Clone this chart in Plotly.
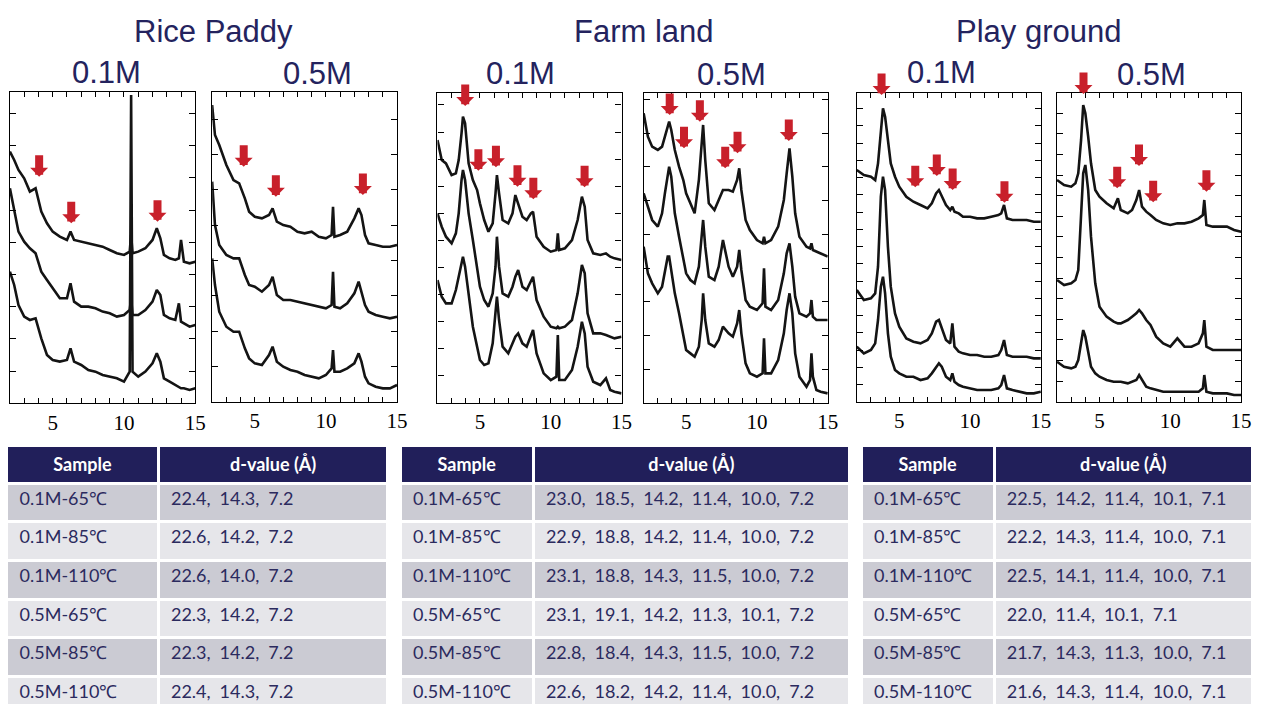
import plotly.graph_objects as go

W, H = 1264, 704

# ---------------- XRD data (2-theta, intensity in arbitrary units) ----------------
# Rice Paddy 0.1M
rp01_x = [2.0, 2.3, 2.6, 3.0, 3.4, 3.8, 4.2, 4.6, 5.0, 5.5, 6.0, 6.25, 6.5, 7.0, 7.5, 8.0, 8.5, 9.0,
          9.5, 10.0, 10.4, 10.5, 10.6, 11.0, 11.5, 12.0, 12.3, 12.55, 12.8, 13.2, 13.6, 13.85, 14.0,
          14.2, 14.6, 15.0]
rp01_65 = [800, 775, 745, 720, 680, 690, 620, 585, 560, 545, 535, 560, 535, 530, 525, 520, 515, 505,
           495, 490, 500, 550, 495, 500, 510, 535, 570, 540, 490, 480, 475, 480, 535, 470, 465, 470]
rp01_85 = [690, 620, 560, 530, 510, 495, 440, 415, 390, 360, 360, 405, 350, 335, 335, 330, 320, 315,
           305, 310, 325, 360, 310, 310, 325, 350, 385, 370, 310, 300, 295, 345, 290, 285, 275, 280]
rp01_110 = [440, 400, 340, 305, 295, 300, 240, 190, 175, 170, 175, 210, 170, 160, 145, 140, 130, 125,
            120, 110, 140, 970, 140, 125, 140, 165, 195, 170, 120, 110, 100, 95, 90, 90, 85, 90]
rp01_arrow_x = [4.05, 6.3, 12.35]
rp01_arrow_y = [725, 585, 590]

# Rice Paddy 0.5M
rp05_x = [2.0, 2.2, 2.5, 3.0, 3.5, 3.9, 4.3, 4.6, 5.0, 5.5, 6.0, 6.25, 6.55, 7.0, 7.5, 8.0, 8.5, 9.0,
          9.5, 10.0, 10.4, 10.5, 10.6, 11.0, 11.5, 12.0, 12.3, 12.5, 12.75, 13.0, 13.5, 14.0, 14.5, 15.0]
rp05_65 = [940, 850, 820, 760, 715, 705, 660, 620, 605, 600, 610, 630, 590, 580, 575, 560, 555, 560,
           545, 540, 550, 635, 545, 550, 560, 600, 630, 610, 550, 525, 520, 515, 515, 520]
rp05_85 = [710, 580, 520, 490, 480, 480, 430, 400, 395, 380, 400, 425, 370, 355, 355, 350, 345, 340,
           335, 330, 340, 440, 335, 330, 345, 375, 410, 380, 340, 320, 310, 305, 300, 305]
rp05_110 = [480, 400, 320, 275, 260, 260, 210, 180, 165, 160, 190, 215, 170, 155, 145, 140, 130, 125,
            120, 130, 150, 205, 140, 140, 150, 165, 195, 170, 125, 105, 95, 90, 90, 100]
rp05_arrow_x = [4.22, 6.48, 12.6]
rp05_arrow_y = [755, 665, 670]

# Farm land 0.1M
fl01_x = [2.0, 2.3, 2.6, 3.0, 3.3, 3.5, 3.7, 3.8, 3.95, 4.2, 4.5, 4.8, 5.0, 5.3, 5.6, 5.9, 6.1, 6.2,
          6.35, 6.6, 7.0, 7.3, 7.5, 7.7, 8.0, 8.3, 8.6, 8.75, 9.0, 9.5, 10.0, 10.4, 10.5, 10.6, 11.0,
          11.5, 11.9, 12.2, 12.4, 12.6, 13.0, 13.5, 13.9, 14.2, 14.5, 15.0]
fl01_65 = [820, 760, 750, 715, 720, 760, 840, 890, 870, 750, 700, 670, 630, 580, 545, 570, 660, 715,
           660, 580, 570, 600, 655, 630, 590, 580, 600, 605, 530, 500, 485, 490, 540, 490, 495,
           520, 580, 650, 620, 520, 480, 475, 480, 470, 465, 460]
fl01_85 = [600, 560, 530, 510, 540, 600, 700, 730, 700, 600, 520, 440, 380, 340, 320, 360, 440, 530,
           440, 360, 350, 380, 410, 430, 380, 370, 400, 410, 340, 290, 260, 255, 260, 255, 260,
           280, 360, 445, 420, 300, 240, 240, 235, 230, 225, 230]
fl01_110 = [400, 350, 330, 330, 370, 410, 460, 470, 440, 360, 260, 200, 160, 145, 150, 210, 300, 350,
            280, 200, 180, 210, 230, 240, 210, 200, 230, 250, 180, 120, 100, 110, 235, 100, 100,
            130, 200, 275, 240, 140, 95, 85, 105, 70, 65, 60]
fl01_arrow_x = [3.96, 4.89, 6.13, 7.65, 8.77, 12.39]
fl01_arrow_y = [922, 728, 738, 680, 642, 678]

# Farm land 0.5M
fl05_x = [2.0, 2.3, 2.6, 3.0, 3.3, 3.5, 3.7, 3.8, 3.95, 4.2, 4.5, 4.8, 5.0, 5.3, 5.6, 5.9, 6.1, 6.2,
          6.35, 6.6, 7.0, 7.3, 7.6, 8.0, 8.3, 8.6, 8.75, 8.9, 9.2, 9.5, 10.0, 10.4, 10.5, 10.6, 11.0,
          11.5, 11.9, 12.1, 12.3, 12.5, 12.7, 13.0, 13.5, 13.75, 13.85, 13.95, 14.2, 14.5, 15.0]
fl05_65 = [900, 830, 800, 790, 800, 830, 860, 875, 850, 790, 740, 700, 660, 630, 600, 700, 800, 865,
           760, 630, 610, 640, 670, 670, 665, 700, 735, 670, 580, 550, 520, 510, 530, 510, 520,
           560, 640, 720, 795, 710, 600, 530, 500, 495, 510, 490, 485, 480, 470]
fl05_85 = [660, 620, 580, 560, 600, 660, 720, 740, 710, 600, 530, 460, 420, 400, 390, 440, 520, 580,
           500, 410, 400, 440, 520, 440, 410, 440, 490, 430, 340, 320, 310, 330, 435, 320, 310,
           340, 420, 480, 510, 440, 350, 300, 290, 300, 340, 290, 280, 280, 280]
fl05_110 = [500, 420, 390, 360, 380, 430, 470, 470, 430, 360, 300, 230, 190, 180, 170, 200, 280, 360,
            280, 210, 200, 220, 260, 240, 230, 270, 310, 240, 150, 120, 110, 120, 225, 120, 120,
            160, 240, 310, 360, 300, 180, 110, 80, 100, 180, 110, 70, 65, 60]
fl05_arrow_x = [3.84, 4.85, 5.97, 7.76, 8.63, 12.25]
fl05_arrow_y = [895, 795, 875, 735, 780, 817]

# Play ground 0.1M
pg01_x = [2.0, 2.5, 3.0, 3.3, 3.5, 3.7, 3.85, 4.0, 4.2, 4.4, 4.7, 5.0, 5.5, 6.0, 6.5, 7.0, 7.3, 7.6,
          7.8, 8.0, 8.3, 8.6, 8.75, 8.9, 9.2, 9.5, 10.0, 10.5, 11.0, 11.5, 12.0, 12.2, 12.4, 12.6,
          13.0, 13.5, 14.0, 14.5, 15.0]
pg01_65 = [730, 715, 710, 700, 750, 850, 915, 890, 820, 750, 710, 680, 650, 635, 625, 615, 630, 660,
           670, 650, 625, 610, 620, 605, 600, 590, 590, 585, 585, 590, 595, 600, 625, 585,
           580, 580, 580, 575, 575]
pg01_85 = [370, 340, 345, 360, 440, 650, 710, 670, 500, 380, 300, 260, 225, 215, 210, 220, 240, 275,
           280, 255, 220, 210, 270, 200, 185, 180, 175, 175, 170, 170, 175, 190, 220, 175,
           170, 170, 170, 165, 165]
pg01_110 = [200, 180, 190, 210, 280, 380, 410, 360, 240, 170, 130, 120, 110, 110, 100, 105, 120, 140,
            150, 140, 110, 100, 120, 95, 85, 80, 75, 70, 70, 70, 75, 85, 115, 75,
            70, 65, 60, 60, 65]
pg01_arrow_x = [3.75, 6.13, 7.65, 8.77, 12.43]
pg01_arrow_y = [955, 678, 712, 670, 632]

# Play ground 0.5M
pg05_x = [2.0, 2.5, 3.0, 3.3, 3.5, 3.7, 3.85, 4.0, 4.2, 4.4, 4.7, 5.0, 5.5, 6.0, 6.3, 6.5, 7.0, 7.3,
          7.6, 7.8, 8.0, 8.3, 8.6, 9.0, 9.5, 10.0, 10.5, 11.0, 11.5, 12.0, 12.3, 12.4, 12.55, 13.0,
          13.5, 14.0, 14.5, 15.0]
pg05_65 = [700, 685, 680, 690, 720, 820, 925, 900, 830, 750, 670, 650, 630, 615, 645, 610, 600, 610,
           640, 670, 620, 605, 595, 580, 570, 565, 570, 570, 575, 585, 595, 640, 565, 560,
           560, 560, 550, 545]
pg05_85 = [400, 385, 390, 400, 430, 580, 720, 745, 670, 530, 390, 320, 290, 275, 270, 270, 280, 290,
           300, 310, 300, 280, 265, 230, 210, 200, 225, 200, 200, 210, 240, 280, 200, 190,
           190, 190, 190, 190]
pg05_110 = [155, 140, 135, 140, 160, 220, 250, 230, 180, 140, 120, 110, 100, 95, 95, 95, 90, 95,
            100, 115, 100, 80, 75, 70, 65, 65, 65, 65, 65, 65, 75, 115, 65, 60,
            60, 60, 55, 55]
pg05_arrow_x = [3.87, 6.25, 7.79, 8.79, 12.55]
pg05_arrow_y = [958, 675, 742, 633, 665]

x_tick_vals = [5, 10, 15]
x_tick_text = ["5", "10", "15"]

# ---------------- Table data ----------------
samples = ["0.1M-65\u2103", "0.1M-85\u2103", "0.1M-110\u2103",
           "0.5M-65\u2103", "0.5M-85\u2103", "0.5M-110\u2103"]
rp_d = [[22.4, 14.3, 7.2], [22.6, 14.2, 7.2], [22.6, 14.0, 7.2],
        [22.3, 14.2, 7.2], [22.3, 14.2, 7.2], [22.4, 14.3, 7.2]]
fl_d = [[23.0, 18.5, 14.2, 11.4, 10.0, 7.2], [22.9, 18.8, 14.2, 11.4, 10.0, 7.2],
        [23.1, 18.8, 14.3, 11.5, 10.0, 7.2], [23.1, 19.1, 14.2, 11.3, 10.1, 7.2],
        [22.8, 18.4, 14.3, 11.5, 10.0, 7.2], [22.6, 18.2, 14.2, 11.4, 10.0, 7.2]]
pg_d = [[22.5, 14.2, 11.4, 10.1, 7.1], [22.2, 14.3, 11.4, 10.0, 7.1],
        [22.5, 14.1, 11.4, 10.0, 7.1], [22.0, 11.4, 10.1, 7.1],
        [21.7, 14.3, 11.3, 10.0, 7.1], [21.6, 14.3, 11.4, 10.0, 7.1]]
header_labels = ["<b>Sample</b>", "<b>d-value (\u00c5)</b>"]

# ---------------- Styling / layout ----------------
NAVY = "#24235e"
RED = "#c8202b"
LINE = "#141414"

panels = [
    dict(x=rp01_x, ys=[rp01_65, rp01_85, rp01_110], ax=rp01_arrow_x, ay=rp01_arrow_y,
         box=(10, 92.3, 197, 403.3), yr=(45, 978), dt=96.6),
    dict(x=rp05_x, ys=[rp05_65, rp05_85, rp05_110], ax=rp05_arrow_x, ay=rp05_arrow_y,
         box=(214, 91.7, 400.5, 401.7), yr=(50, 980), dt=106),
    dict(x=fl01_x, ys=[fl01_65, fl01_85, fl01_110], ax=fl01_arrow_x, ay=fl01_arrow_y,
         box=(441.3, 92.7, 627, 402.7), yr=(32, 962), dt=81.2),
    dict(x=fl05_x, ys=[fl05_65, fl05_85, fl05_110], ax=fl05_arrow_x, ay=fl05_arrow_y,
         box=(649.3, 93.3, 835, 402.7), yr=(32, 960), dt=101),
    dict(x=pg01_x, ys=[pg01_65, pg01_85, pg01_110], ax=pg01_arrow_x, ay=pg01_arrow_y,
         box=(864.3, 92.7, 1050, 401.7), yr=(35, 962), dt=51.7),
    dict(x=pg05_x, ys=[pg05_65, pg05_85, pg05_110], ax=pg05_arrow_x, ay=pg05_arrow_y,
         box=(1066.3, 93.3, 1252, 401.7), yr=(35, 960), dt=61.8),
]

fig = go.Figure()
layout = {}
annotations = []

for i, p in enumerate(panels):
    n = "" if i == 0 else str(i + 1)
    xref, yref = "x" + n, "y" + n
    l, t, r, b = p["box"]
    for ys in p["ys"]:
        fig.add_trace(go.Scatter(x=p["x"], y=ys, xaxis=xref, yaxis=yref, mode="lines",
                                 line=dict(color=LINE, width=2.6), showlegend=False,
                                 hoverinfo="skip"))
    layout["xaxis" + n] = dict(
        domain=[l / W, r / W], range=[2, 15], anchor=yref,
        tickvals=x_tick_vals, ticktext=x_tick_text,
        ticks="inside", ticklen=5, tickwidth=1, tickcolor="black",
        minor=dict(dtick=1, tick0=0, ticks="inside", ticklen=5, tickcolor="black", tickwidth=1),
        showline=True, linecolor="black", linewidth=1.2, mirror="ticks",
        showgrid=False, zeroline=False,
        tickfont=dict(family="Liberation Serif, Times New Roman, serif", size=21, color="black"),
    )
    layout["yaxis" + n] = dict(
        domain=[1 - b / H, 1 - t / H], range=list(p["yr"]), anchor=xref,
        tick0=p["yr"][0], dtick=p["dt"], ticks="inside", ticklen=6, tickcolor="black",
        showticklabels=False, showline=True, linecolor="black", linewidth=1.2, mirror="ticks",
        showgrid=False, zeroline=False,
    )
    for axv, ayv in zip(p["ax"], p["ay"]):
        annotations.append(dict(x=axv, y=ayv, xref=xref, yref=yref, text="", showarrow=True,
                                arrowhead=1, arrowwidth=8, arrowsize=0.375, arrowcolor=RED,
                                ax=0, ay=-23, standoff=0))

# titles
titles = [("Rice Paddy", 215, 31), ("Farm land", 650, 31), ("Play ground", 1048, 31),
          ("0.1M", 107, 72), ("0.5M", 320, 73), ("0.1M", 525, 73), ("0.5M", 738, 74),
          ("0.1M", 950, 72), ("0.5M", 1162, 74)]
for txt, cx, cy in titles:
    annotations.append(dict(text=txt, x=cx / W, y=1 - cy / H, xref="paper", yref="paper",
                            xanchor="center", yanchor="middle", showarrow=False,
                            font=dict(family="Liberation Sans, Arial, sans-serif", size=31, color=NAVY)))

# tables
ROW_A, ROW_B = "#cbcbd3", "#e6e6ea"
PAD = "\u00a0"
row_fill = [ROW_A if k % 2 == 0 else ROW_B for k in range(len(samples))]
tables = [(rp_d, 7, 392, [153, 232]), (fl_d, 404, 857, [134, 319]), (pg_d, 869, 1264, [134, 261])]
for dvals, x0, x1, cw in tables:
    dtext = [PAD + ",\u2002".join(f"{v:.1f}" for v in row) for row in dvals]
    stext = [PAD + s for s in samples]
    fig.add_trace(go.Table(
        domain=dict(x=[x0 / W, x1 / W], y=[0, 1 - 445 / H]),
        columnwidth=cw,
        header=dict(values=header_labels, fill_color="#211f5a", align="center", height=38,
                    line=dict(color="white", width=3),
                    font=dict(family="Lato, Open Sans, sans-serif", size=18, color="white")),
        cells=dict(values=[stext, dtext], fill_color=[row_fill, row_fill], align="left",
                   height=38.7, line=dict(color="white", width=3),
                   font=dict(family="Lato, Open Sans, sans-serif", size=18, color="#2b2a5e")),
    ))

fig.update_layout(
    width=W, height=H, margin=dict(l=0, r=0, t=0, b=0),
    paper_bgcolor="white", plot_bgcolor="white", showlegend=False,
    annotations=annotations, **layout,
)

fig.write_html(
    "out.html",
    config={"displayModeBar": False},
    post_script="document.body.style.margin='0px';document.body.style.padding='0px';"
                "document.documentElement.style.overflow='hidden';",
)
